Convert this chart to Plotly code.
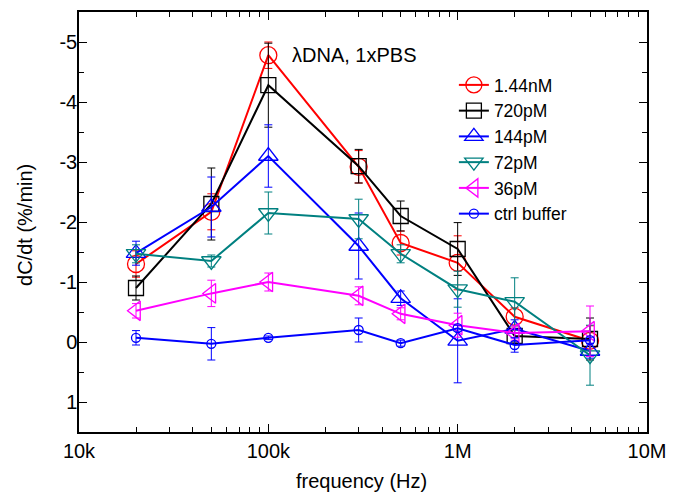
import plotly.graph_objects as go

freq = [2e4, 5e4, 1e5, 3e5, 5e5, 1e6, 2e6, 5e6]

names = ["1.44nM", "720pM", "144pM", "72pM", "36pM", "ctrl buffer"]

y_144nM = [-1.30, -2.17, -4.78, -2.92, -1.65, -1.32, -0.42, -0.02]
e_144nM = [0.22, 0.30, 0.22, 0.27, 0.20, 0.45, 0.15, 0.25]

y_720pM = [-0.90, -2.30, -4.28, -2.93, -2.10, -1.55, -0.10, -0.05]
e_720pM = [0.20, 0.60, 0.70, 0.28, 0.25, 0.44, 0.10, 0.35]

y_144pM = [-1.48, -2.25, -3.10, -1.60, -0.73, -0.02, -0.22, 0.15]
e_144pM = [0.20, 0.50, 0.52, 0.55, 0.12, 0.70, 0.15, 0.12]

y_72pM = [-1.47, -1.35, -2.15, -2.05, -1.47, -0.88, -0.67, 0.22]
e_72pM = [0.15, 0.10, 0.35, 0.33, 0.15, 0.30, 0.40, 0.50]

y_36pM = [-0.52, -0.81, -1.00, -0.77, -0.47, -0.28, -0.15, -0.18]
e_36pM = [0.12, 0.22, 0.15, 0.15, 0.10, 0.20, 0.12, 0.42]

y_ctrl = [-0.07, 0.03, -0.07, -0.20, 0.02, -0.23, 0.05, -0.03]
e_ctrl = [0.12, 0.27, 0.03, 0.20, 0.05, 0.05, 0.12, 0.05]

x_tickvals = [1e4, 1e5, 1e6, 1e7]
x_ticktext = ["10k", "100k", "1M", "10M"]
y_tickvals = [-5, -4, -3, -2, -1, 0, 1]
y_ticktext = ["-5", "-4", "-3", "-2", "-1", "0", "1"]

series = [
    (names[0], y_144nM, e_144nM, "#ff0000", "circle-open", 17),
    (names[1], y_720pM, e_720pM, "#000000", "square-open", 15),
    (names[2], y_144pM, e_144pM, "#0000ff", "triangle-up-open", 17),
    (names[3], y_72pM, e_72pM, "#008080", "triangle-down-open", 17),
    (names[4], y_36pM, e_36pM, "#ff00ff", "triangle-left-open", 17),
    (names[5], y_ctrl, e_ctrl, "#0000ff", "circle-open", 9),
]

FONT = "Arial, Liberation Sans, sans-serif"

fig = go.Figure()
for name, ys, es, col, sym, size in series:
    fig.add_trace(go.Scatter(
        x=freq, y=ys, name=name, mode="lines+markers",
        line=dict(color=col, width=2),
        marker=dict(symbol=sym, size=size, color=col, line=dict(width=1.3, color=col)),
        error_y=dict(type="data", array=es, visible=True, color=col, thickness=1, width=4),
    ))

fig.add_annotation(x=0.484, y=0.898, xref="paper", yref="paper",
                   text="λDNA, 1xPBS", showarrow=False,
                   font=dict(family=FONT, size=20, color="black"),
                   xanchor="center", yanchor="middle")
fig.add_annotation(x=0.498, y=-0.117, xref="paper", yref="paper",
                   text="frequency (Hz)", showarrow=False,
                   font=dict(family=FONT, size=20, color="black"),
                   xanchor="center", yanchor="middle")
fig.add_annotation(x=-0.095, y=0.493, xref="paper", yref="paper",
                   text="dC/dt (%/min)", showarrow=False, textangle=-90,
                   font=dict(family=FONT, size=20, color="black"),
                   xanchor="center", yanchor="middle")

axis_common = dict(
    showgrid=False, zeroline=False, showline=True, linecolor="black", linewidth=1.5,
    mirror="ticks", ticks="inside", ticklen=8, tickwidth=1, tickcolor="black",
    tickfont=dict(family=FONT, size=20, color="black"), automargin=False,
)

fig.update_xaxes(
    type="log", range=[4, 7], tickvals=x_tickvals, ticktext=x_ticktext,
    minor=dict(ticks="inside", ticklen=5, dtick="D1", tickcolor="black", tickwidth=1),
    **axis_common,
)
fig.update_yaxes(
    range=[1.5, -5.5], tickvals=y_tickvals, ticktext=y_ticktext,
    ticklabelstandoff=-4,
    minor=dict(ticks="inside", ticklen=5, dtick=0.5, tickcolor="black", tickwidth=1),
    **axis_common,
)

fig.update_layout(
    width=680, height=492,
    margin=dict(l=79, r=33, t=12, b=60),
    paper_bgcolor="white", plot_bgcolor="white",
    font=dict(family=FONT, color="black"),
    legend=dict(x=0.66, y=0.869, xanchor="left", yanchor="top",
                bgcolor="rgba(0,0,0,0)", font=dict(family=FONT, size=17.5, color="black"),
                tracegroupgap=0),
)

fig.write_html("out.html")
